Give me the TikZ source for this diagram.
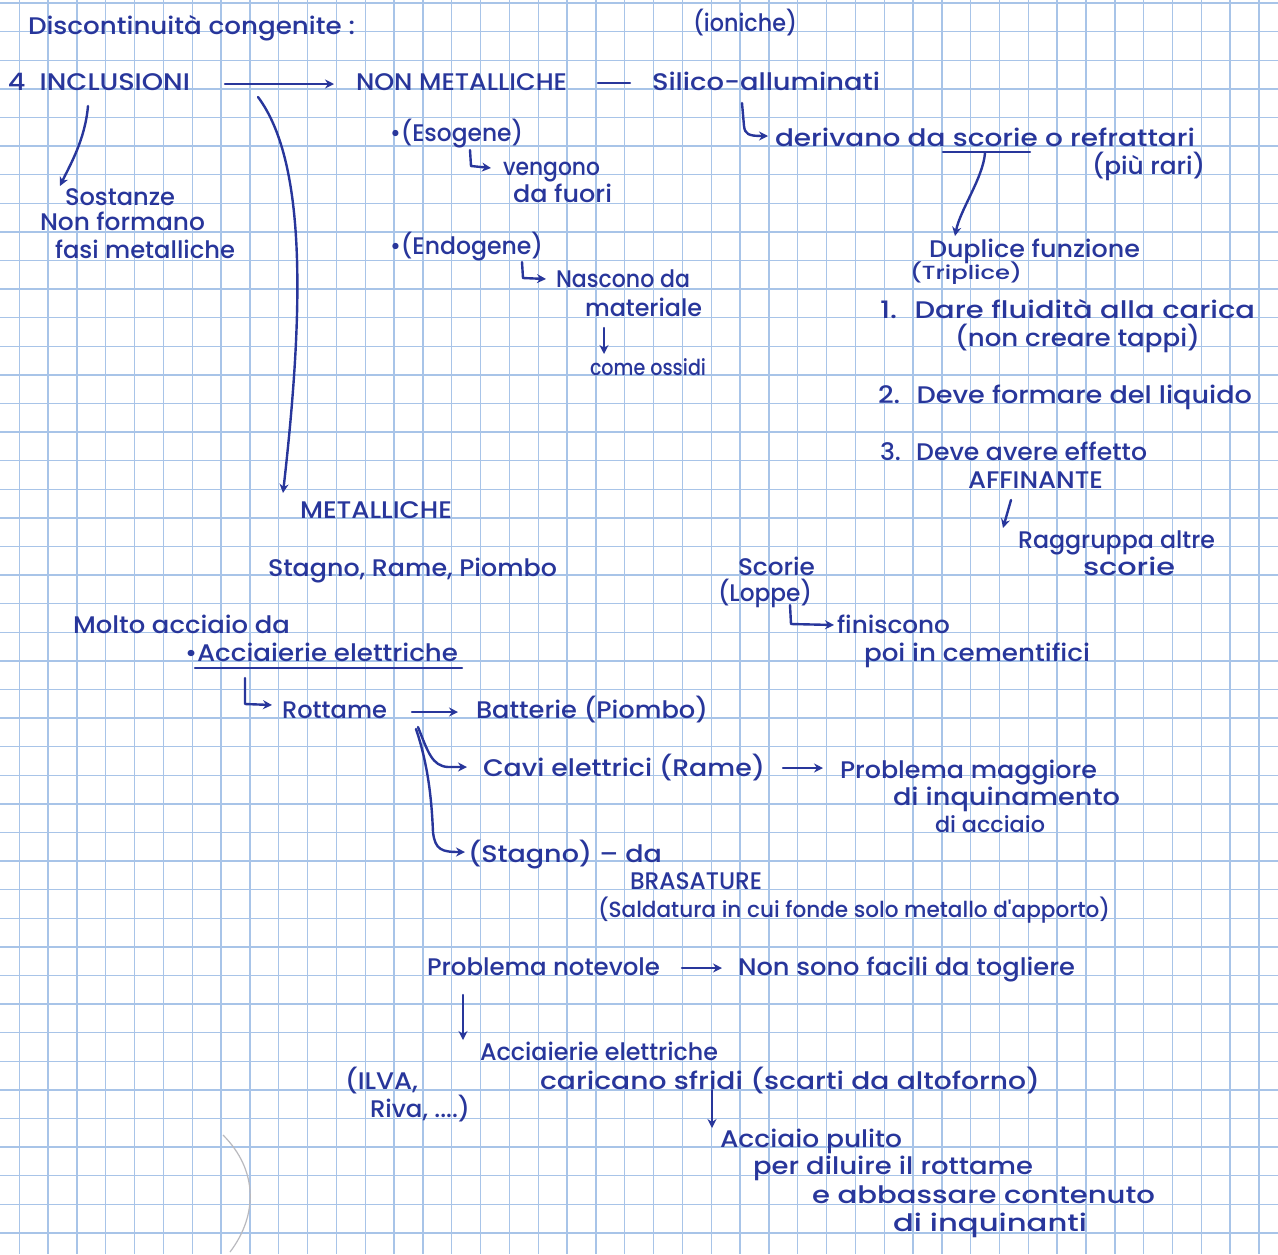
\documentclass[tikz,border=0pt]{standalone}
\usepackage{fontspec}
\usepackage{graphicx}
\usetikzlibrary{arrows.meta}
\newfontfamily\hwfont{Poppins}[UprightFont=* Medium]
\definecolor{ink}{RGB}{40,54,155}
\definecolor{gridc}{RGB}{168,196,232}
\definecolor{pencil}{RGB}{185,185,190}
\newdimen\pxu \pxu=0.5pt
\newcommand\W[2]{\resizebox{#1\pxu}{\height}{#2}}
\begin{document}
\begin{tikzpicture}[x=0.5pt,y=-0.5pt,
  t/.style={anchor=base west,inner sep=0pt,outer sep=0pt,text=ink,font=\hwfont\fontsize{12}{14}\selectfont},
  ts/.style={t,font=\hwfont\fontsize{9.5}{11}\selectfont},
  tn/.style={t,font=\hwfont\fontsize{11}{13}\selectfont},
  con/.style={draw=ink,line width=1.2pt,line cap=round,line join=round},
  arr/.style={con,-{Stealth[length=4.5pt,width=4.5pt]}},
  gridline/.style={draw=gridc,line width=0.7pt}]
\useasboundingbox (0,0) rectangle (1278,1254);
\fill[white] (0,0) rectangle (1278,1254);
% graph paper
\foreach \i in {0,...,43} \draw[gridline] ({19.3+28.83*\i},0) -- ({19.3+28.83*\i},1254);
\foreach \j in {0,...,43} \draw[gridline] (0,{3.1+28.6*\j}) -- (1278,{3.1+28.6*\j});

% texts
\node[t] (disc) at (28,34) {\W{327}{Discontinuità congenite :}};
\node[t] (ion) at (693,31) {\W{104}{(ioniche)}};
\node[t] (incl) at (8,90) {\W{182}{4 \ INCLUSIONI}};
\node[t] (nonmet) at (356,90) {\W{211}{NON METALLICHE}};
\node[t] (silico) at (652,90) {\W{228}{Silico-alluminati}};
\node[t] (deriv) at (775,146) {\W{420}{derivano da scorie o refrattari}};
\node[t] (rari) at (1092,174) {\W{113}{(più rari)}};
\node[t] (dup) at (929,257) {\W{211}{Duplice funzione}};
\node[ts] (trip) at (910,279) {\W{112}{(Triplice)}};
\node[t] (l1) at (880,318) {\W{375}{1. \ Dare fluidità alla carica}};
\node[t] (l1b) at (955,346) {\W{245}{(non creare tappi)}};
\node[t] (l2) at (878,403) {\W{374}{2. \ Deve formare del liquido}};
\node[t] (l3) at (880,460) {\W{267}{3. \ Deve avere effetto}};
\node[t] (aff) at (968,488) {\W{135}{AFFINANTE}};
\node[t] (rag) at (1018,548) {\W{197}{Raggruppa altre}};
\node[t] (rag2) at (1083,575) {\W{92}{scorie}};
\node[t] (sost) at (65,205) {\W{110}{Sostanze}};
\node[t] (nonf) at (40,230) {\W{165}{Non formano}};
\node[t] (fasi) at (55,258) {\W{180}{fasi metalliche}};
\node[t] (eso) at (390,141) {\W{133}{•(Esogene)}};
\node[t] (veng) at (503,175) {\W{97}{vengono}};
\node[t] (fuori) at (513,202) {\W{99}{da fuori}};
\node[t] (endo) at (390,254) {\W{153}{•(Endogene)}};
\node[t] (nasc) at (556,287) {\W{134}{Nascono da}};
\node[t] (mat) at (585,316) {\W{117}{materiale}};
\node[tn] (oss) at (590,375) {\W{116}{come ossidi}};
\node[t] (met) at (300,518) {\W{152}{METALLICHE}};
\node[t] (stag) at (268,576) {\W{289}{Stagno, Rame, Piombo}};
\node[t] (sco) at (738,575) {\W{77}{Scorie}};
\node[t] (lop) at (718,601) {\W{94}{(Loppe)}};
\node[t] (fin) at (837,633) {\W{113}{finiscono}};
\node[t] (cem) at (864,661) {\W{226}{poi in cementifici}};
\node[t] (molto) at (73,633) {\W{217}{Molto acciaio da}};
\node[t] (acc) at (185,661) {\W{273}{•Acciaierie elettriche}};
\node[t] (rott) at (282,718) {\W{105}{Rottame}};
\node[t] (batt) at (476,718) {\W{232}{Batterie (Piombo)}};
\node[t] (cavi) at (483,776) {\W{282}{Cavi elettrici (Rame)}};
\node[t] (pm1) at (840,778) {\W{257}{Problema maggiore}};
\node[t] (pm2) at (893,805) {\W{227}{di inquinamento}};
\node[tn] (pm3) at (935,832) {\W{110}{di acciaio}};
\node[t] (stagno) at (468,862) {\W{194}{(Stagno) – da}};
\node[t] (bras) at (630,889) {\W{132}{BRASATURE}};
\node[tn] (sald) at (598,917) {\W{512}{(Saldatura in cui fonde solo metallo d'apporto)}};
\node[t] (pn) at (427,975) {\W{233}{Problema notevole}};
\node[t] (nonso) at (738,975) {\W{337}{Non sono facili da togliere}};
\node[t] (ae) at (480,1060) {\W{238}{Acciaierie elettriche}};
\node[t] (car) at (540,1089) {\W{500}{caricano sfridi (scarti da altoforno)}};
\node[t] (ilva) at (345,1089) {\W{73}{(ILVA,}};
\node[t] (riva) at (370,1117) {\W{100}{Riva, ....)}};
\node[t] (ap) at (720,1147) {\W{182}{Acciaio pulito}};
\node[t] (dil) at (753,1174) {\W{280}{per diluire il rottame}};
\node[t] (abb) at (812,1203) {\W{343}{e abbassare contenuto}};
\node[t] (inq) at (893,1231) {\W{194}{di inquinanti}};

% underlines
\draw[con] ([shift={(168,6)}]deriv.base west) -- ([shift={(255,6)}]deriv.base west);
\draw[con] ([shift={(10,7)}]acc.base west) -- ([shift={(277,7)}]acc.base west);

% connectors
\draw[arr] ([shift={(217,-6)}]incl.base west) -- ([shift={(-22,-6)}]nonmet.base west);
\draw[con] ([shift={(242,-7)}]nonmet.base west) -- ([shift={(-22,-7)}]silico.base west);
\draw[arr] ([shift={(80,16)}]incl.base west) .. controls (85,140) and (70,165) .. ([shift={(-5,-19)}]sost.base west);
\draw[arr] ([shift={(250,7)}]incl.base west) .. controls (305,160) and (305,300) .. ([shift={(-17,-25)}]met.base west);
\draw[arr] ([shift={(90,13)}]silico.base west) -- (744,126) .. controls (745,134) and (748,136) .. ([shift={(-7,-10)}]deriv.base west);
\draw[arr] ([shift={(210,7)}]deriv.base west) .. controls (983,178) and (960,210) .. ([shift={(26,-21)}]dup.base west);
\draw[arr] ([shift={(43,12)}]aff.base west) -- ([shift={(-15,-20)}]rag.base west);
\draw[arr] ([shift={(19,12)}]mat.base west) -- ([shift={(14,-21)}]oss.base west);
\draw[arr] ([shift={(80,9)}]eso.base west) -- (471,166) -- ([shift={(-12,-7)}]veng.base west);
\draw[arr] ([shift={(132,8)}]endo.base west) -- (523,278) -- ([shift={(-10,-8)}]nasc.base west);
\draw[arr] ([shift={(72,4)}]lop.base west) -- (791,624) -- ([shift={(-3,-8)}]fin.base west);
\draw[arr] ([shift={(60,17)}]acc.base west) -- (245,704) -- ([shift={(-10,-13)}]rott.base west);
\draw[arr] ([shift={(130,-6)}]rott.base west) -- ([shift={(-18,-6)}]batt.base west);
\draw[arr] ([shift={(136,9)}]rott.base west) .. controls (428,752) and (432,766) .. (448,767) -- ([shift={(-16,-9)}]cavi.base west);
\draw[arr] ([shift={(134,11)}]rott.base west) .. controls (430,770) and (432,810) .. (433,832) .. controls (435,850) and (442,852) .. ([shift={(-3,-10)}]stagno.base west);
\draw[arr] ([shift={(300,-8)}]cavi.base west) -- ([shift={(-17,-10)}]pm1.base west);
\draw[arr] ([shift={(255,-7)}]pn.base west) -- ([shift={(-16,-7)}]nonso.base west);
\draw[arr] ([shift={(36,20)}]pn.base west) -- ([shift={(-17,-20)}]ae.base west);
\draw[arr] ([shift={(172,1)}]car.base west) -- ([shift={(-8,-19)}]ap.base west);

% faint pencil arc
\draw[pencil,line width=0.6pt] (223,1135) .. controls (258,1170) and (258,1215) .. (230,1252);
\end{tikzpicture}
\end{document}
